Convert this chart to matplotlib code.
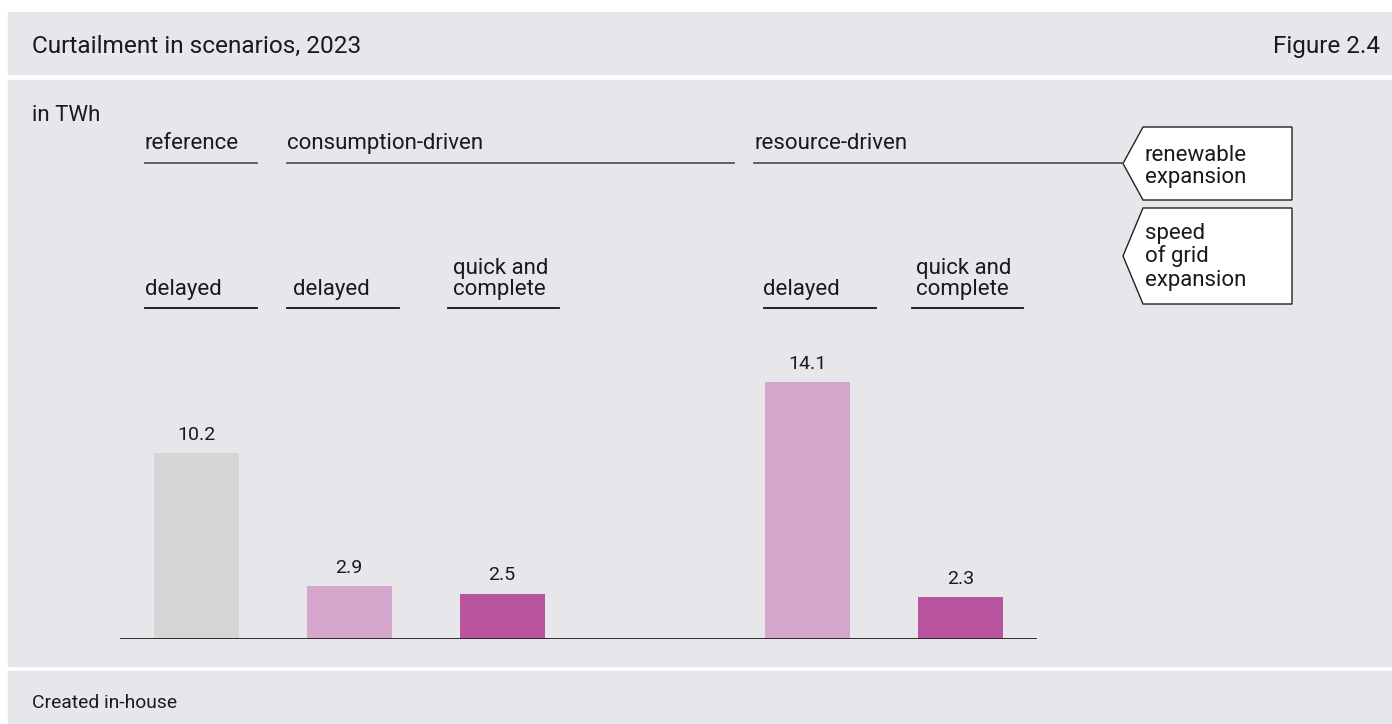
import numpy as np
import matplotlib.pyplot as plt
from matplotlib.lines import Line2D
from matplotlib.patches import Rectangle, Polygon

# -------------------------
# Data
# -------------------------
values = [10.2, 2.9, 2.5, 14.1, 2.3]
positions = [0, 1, 2, 4, 5]
bar_colors = ['#d5d5d5', '#d5a6cb', '#b9559e', '#d5a6cb', '#b9559e']
grid_speed = ['delayed', 'delayed', 'quick and\ncomplete', 'delayed', 'quick and\ncomplete']
renewables = ['reference', 'consumption-driven', 'resource-driven']

title = 'Curtailment in scenarios, 2023'
fig_no = 'Figure 2.4'
unit = 'in TWh'
source = 'Created in-house'

# -------------------------
# Layout (pixels of the 1392x724 picture)
# -------------------------
W, H = 1392, 724
bg = '#e7e6eb'
txt = '#1a1a1a'
font = 'Roboto'
fs = 16

def fx(px):
    return px / W

def fy(py):
    return 1 - py / H

fig = plt.figure(figsize=(W / 100, H / 100), dpi=100, facecolor='white')

# panels
for top, bottom in [(12, 74), (80, 666), (671, 724)]:
    fig.add_artist(Rectangle((fx(8), fy(bottom)), fx(W) - fx(8), fy(top) - fy(bottom),
                             transform=fig.transFigure, color=bg, zorder=0))

def label(x, y, s, size=fs, ha='left', step=21):
    for i, line in enumerate(s.split('\n')[::-1]):
        fig.text(fx(x), fy(y - i * step), line, ha=ha, va='baseline',
                 fontsize=size, color=txt, family=font)

def hline(x0, x1, y, color='#333333', lw=1.3):
    fig.add_artist(Line2D([fx(x0), fx(x1)], [fy(y), fy(y)], transform=fig.transFigure,
                          color=color, lw=lw))

label(32, 53, title, size=17.6)
label(1380, 53, fig_no, size=17.5, ha='right')
label(32, 121, unit)
label(32, 708, source, size=13.9)

# upper header row: renewable expansion
row1 = [(145, 257), (287, 734), (754, 1123)]
for name, (x0, x1) in zip(renewables, row1):
    label(x0, 149, name)
    hline(x0, x1, 163, color='#555555')

# lower header row: speed of grid expansion
row2 = [(145, 257), (287, 399), (448, 559), (764, 876), (912, 1023)]
text_x = [145, 293, 453, 763, 916]
for name, (x0, x1), tx in zip(grid_speed, row2, text_x):
    label(tx, 295, name)
    hline(x0, x1, 308, color='#111111')

# arrow boxes
def tag_box(top, bottom, lines, first_base, step):
    mid = (top + bottom) / 2
    pts = [(1123, mid), (1143, top), (1292, top), (1292, bottom), (1143, bottom)]
    fig.add_artist(Polygon([(fx(x), fy(y)) for x, y in pts], closed=True,
                           transform=fig.transFigure, facecolor='white',
                           edgecolor='#222222', lw=1.0))
    for i, line in enumerate(lines):
        label(1145, first_base + i * step, line)

tag_box(127, 200, ['renewable', 'expansion'], 161, 22)
tag_box(208, 304, ['speed', 'of grid', 'expansion'], 239, 23.5)

# -------------------------
# Bars
# -------------------------
px_per_unit = 18.2
ax = fig.add_axes([fx(120), fy(639), fx(1037) - fx(120), fy(330) - fy(639)])
ax.set_facecolor('none')
ax.bar(positions, values, width=0.556, color=bar_colors, zorder=2)
ax.set_xlim(-0.5, 5.5)
ax.set_ylim(0, (639 - 330) / px_per_unit)
ax.axhline(0, color='#222222', lw=1.3, zorder=3)
for s in ax.spines.values():
    s.set_visible(False)
ax.set_xticks([])
ax.set_yticks([])

for x, v in zip(positions, values):
    ax.annotate(f'{v}', (x, v), xytext=(0, 9.4), textcoords='offset points',
                ha='center', va='baseline', fontsize=14, color=txt, family=font)

fig.savefig('out.png', dpi=100, facecolor='white')
